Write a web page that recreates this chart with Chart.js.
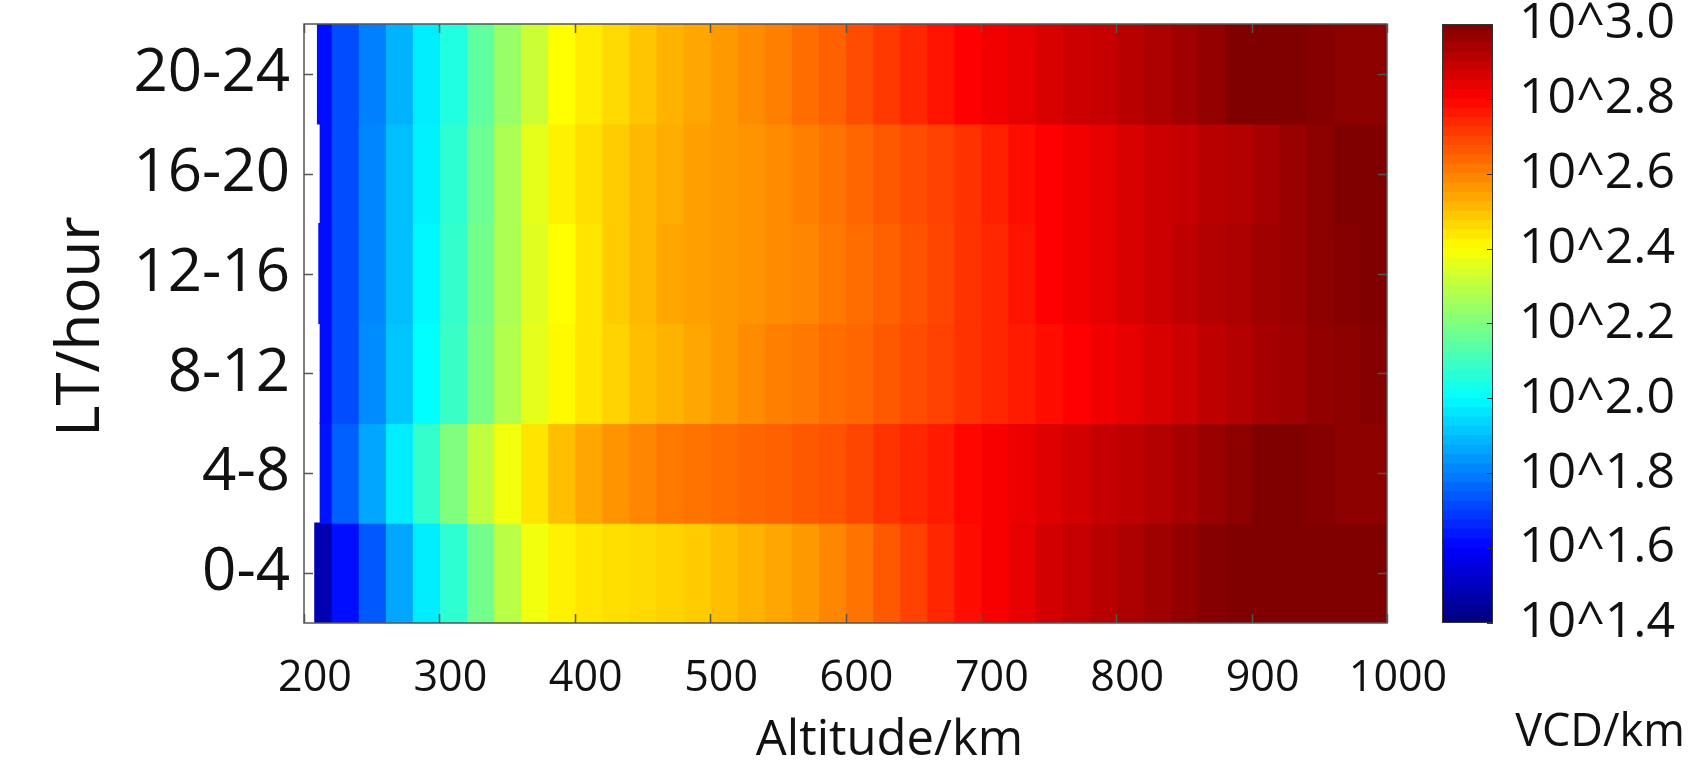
<!DOCTYPE html>
<html>
<head>
<meta charset="utf-8">
<script src="https://cdn.jsdelivr.net/npm/chart.js@4.4.0/dist/chart.umd.min.js"></script>
<style>
  html, body { margin:0; padding:0; background:#fff; }
  #wrap { position:relative; width:1690px; height:764px; overflow:hidden; }
  #heat { position:absolute; left:0; top:0; }
  #cbar { position:absolute; left:1400px; top:0; }
</style>
</head>
<body>
<div id="wrap">
  <canvas id="heat" width="1690" height="764"></canvas>
  <canvas id="cbar" width="290" height="764"></canvas>
</div>
<script>
// Data (log10 of VCD/km)
const LT_BANDS = ['0-4', '4-8', '8-12', '12-16', '16-20', '20-24'];
const ALT_CENTERS = [210,230,250,270,290,310,330,350,370,390,
                     410,430,450,470,490,510,530,550,570,590,
                     610,630,650,670,690,710,730,750,770,790,
                     810,830,850,870,890,910,930,950,970,990];
const BIN_WIDTH = 20;
const ROW_START = [208, 212, 212, 211, 212, 210]; // km where each LT band begins

const LOGVCD_0_4   = [1.48,1.62,1.74,1.86,1.97,2.07,2.18,2.29,2.38,2.42,
                      2.44,2.45,2.46,2.47,2.48,2.50,2.52,2.54,2.56,2.59,
                      2.62,2.66,2.70,2.74,2.78,2.81,2.84,2.87,2.89,2.91,
                      2.93,2.95,2.97,2.99,3.00,3.00,3.00,3.00,3.00,3.00];
const LOGVCD_4_8   = [1.63,1.75,1.86,1.97,2.08,2.20,2.30,2.38,2.44,2.50,
                      2.54,2.57,2.59,2.61,2.62,2.63,2.64,2.65,2.66,2.67,
                      2.69,2.72,2.74,2.76,2.79,2.81,2.83,2.85,2.87,2.89,
                      2.90,2.92,2.94,2.96,2.98,3.00,3.00,2.99,2.98,2.98];
const LOGVCD_8_12  = [1.62,1.72,1.82,1.91,2.00,2.09,2.19,2.28,2.36,2.41,
                      2.44,2.47,2.50,2.52,2.54,2.56,2.58,2.60,2.61,2.63,
                      2.64,2.66,2.68,2.70,2.72,2.74,2.76,2.78,2.80,2.82,
                      2.84,2.86,2.88,2.90,2.92,2.94,2.95,2.97,2.98,2.99];
const LOGVCD_12_16 = [1.62,1.72,1.81,1.90,1.99,2.08,2.18,2.27,2.35,2.40,
                      2.44,2.48,2.51,2.54,2.55,2.56,2.57,2.58,2.59,2.61,
                      2.63,2.65,2.67,2.69,2.72,2.74,2.77,2.80,2.82,2.84,
                      2.86,2.88,2.90,2.92,2.93,2.95,2.96,2.98,2.99,3.00];
const LOGVCD_16_20 = [1.62,1.72,1.81,1.90,1.98,2.07,2.17,2.27,2.36,2.42,
                      2.45,2.48,2.51,2.53,2.55,2.56,2.57,2.58,2.60,2.62,
                      2.64,2.66,2.68,2.70,2.72,2.75,2.78,2.80,2.82,2.84,
                      2.86,2.88,2.89,2.91,2.92,2.94,2.96,2.98,3.00,3.00];
const LOGVCD_20_24 = [1.62,1.72,1.80,1.88,1.97,2.05,2.15,2.24,2.32,2.40,
                      2.43,2.46,2.49,2.52,2.54,2.56,2.58,2.60,2.63,2.65,
                      2.68,2.71,2.74,2.77,2.80,2.82,2.84,2.86,2.88,2.89,
                      2.91,2.93,2.95,2.97,3.00,3.00,3.00,2.99,2.98,2.98];
const ROWS = [LOGVCD_0_4, LOGVCD_4_8, LOGVCD_8_12, LOGVCD_12_16, LOGVCD_16_20, LOGVCD_20_24];

const X_TICKS = [200, 300, 400, 500, 600, 700, 800, 900, 1000];
const CBAR_TICKS = [1.4, 1.6, 1.8, 2.0, 2.2, 2.4, 2.6, 2.8, 3.0];
const VMIN = 1.4, VMAX = 3.0;

// Helpers
const clamp01 = v => Math.max(0, Math.min(1, v));
function jet(v){
  const t = clamp01((v - VMIN) / (VMAX - VMIN));
  const r = clamp01(1.5 - Math.abs(4*t - 3));
  const g = clamp01(1.5 - Math.abs(4*t - 2));
  const b = clamp01(1.5 - Math.abs(4*t - 1));
  return `rgb(${Math.round(r*255)},${Math.round(g*255)},${Math.round(b*255)})`;
}
// keep the plot box where we put it: no extra room for overhanging labels
const noScalePadding = s => { s.paddingTop = 0; s.paddingBottom = 0; s.paddingLeft = 0; s.paddingRight = 0; };

Chart.defaults.font.family = '"Open Sans", "Noto Sans", sans-serif';
Chart.defaults.color = '#111';

const AXIS_COLOR = '#555';

// box + inward ticks, like the original figure
const frameTicks = {
  id: 'frameTicks',
  afterDatasetsDraw(chart){
    const { ctx, chartArea: a, scales: { x, y } } = chart;
    ctx.save();
    ctx.strokeStyle = AXIS_COLOR;
    ctx.lineWidth = 1.5;
    ctx.strokeRect(a.left, a.top, a.right - a.left, a.bottom - a.top);
    ctx.beginPath();
    X_TICKS.forEach(v => {
      const px = Math.round(x.getPixelForValue(v)) + 0.5;
      ctx.moveTo(px, a.bottom); ctx.lineTo(px, a.bottom - 9);
      ctx.moveTo(px, a.top);    ctx.lineTo(px, a.top + 9);
    });
    LT_BANDS.forEach((_, i) => {
      const py = Math.round(y.getPixelForValue(i)) + 0.5;
      ctx.moveTo(a.left, py);  ctx.lineTo(a.left + 9, py);
      ctx.moveTo(a.right, py); ctx.lineTo(a.right - 9, py);
    });
    ctx.stroke();
    ctx.restore();
  }
};

const axisTitles = {
  id: 'axisTitles',
  afterDraw(chart){
    const { ctx, chartArea: a } = chart;
    ctx.save();
    ctx.fillStyle = '#111';
    ctx.textAlign = 'center';
    ctx.textBaseline = 'middle';
    ctx.font = '49px "Open Sans"';
    ctx.fillText('Altitude/km', (a.left + a.right) / 2 + 44, a.bottom + 118);
    ctx.translate(82, (a.top + a.bottom) / 2 + 3);
    ctx.rotate(-Math.PI / 2);
    ctx.font = '60px "Open Sans"';
    ctx.fillText('LT/hour', 0, 0);
    ctx.restore();
  }
};

// Heat map: one floating-bar dataset per altitude bin
const heatDatasets = ALT_CENTERS.map((c, i) => ({
  label: c + ' km',
  data: ROWS.map((row, r) => [i === 0 ? ROW_START[r] : c - BIN_WIDTH / 2, c + BIN_WIDTH / 2]),
  backgroundColor: ROWS.map(row => jet(row[i])),
  borderWidth: 0,
  barPercentage: 1,
  categoryPercentage: 1,
  grouped: false,
  inflateAmount: 0.6
}));

new Chart(document.getElementById('heat'), {
  type: 'bar',
  data: { labels: LT_BANDS, datasets: heatDatasets },
  options: {
    indexAxis: 'y',
    responsive: false,
    animation: false,
    layout: { padding: { left: 0, top: 24, right: 303, bottom: 0 } },
    plugins: { legend: { display: false }, tooltip: { enabled: false } },
    scales: {
      x: {
        type: 'linear', min: 200, max: 1000,
        afterBuildTicks: s => { s.ticks = X_TICKS.map(v => ({ value: v })); },
        ticks: { font: { size: 43 }, padding: 22, labelOffset: 11, maxRotation: 0, autoSkip: false,
                 callback: v => String(v) },
        grid: { display: false }, border: { display: false },
        afterFit: s => { noScalePadding(s); s.height = 141; }
      },
      y: {
        type: 'category', reverse: true,
        ticks: { font: { size: 60 }, padding: 6 },
        grid: { display: false }, border: { display: false },
        afterFit: s => { noScalePadding(s); s.width = 304; }
      }
    }
  },
  plugins: [frameTicks, axisTitles]
});

// Colour bar
const CBAR_STEPS = 64;
const cbarDatasets = [];
for (let k = 0; k < CBAR_STEPS; k++) {
  const lo = VMIN + (VMAX - VMIN) * k / CBAR_STEPS;
  const hi = VMIN + (VMAX - VMIN) * (k + 1) / CBAR_STEPS;
  cbarDatasets.push({
    data: [[lo, hi]],
    backgroundColor: jet((lo + hi) / 2),
    borderWidth: 0, barPercentage: 1, categoryPercentage: 1,
    grouped: false, inflateAmount: 0.6
  });
}

const cbarFrame = {
  id: 'cbarFrame',
  afterDatasetsDraw(chart){
    const { ctx, chartArea: a, scales: { y } } = chart;
    ctx.save();
    ctx.strokeStyle = '#333';
    ctx.lineWidth = 1;
    ctx.strokeRect(a.left + 0.5, a.top + 0.5, a.right - a.left - 1, a.bottom - a.top - 1);
    ctx.beginPath();
    CBAR_TICKS.forEach(v => {
      const py = Math.round(y.getPixelForValue(v)) + 0.5;
      ctx.moveTo(a.right, py); ctx.lineTo(a.right - 6, py);
    });
    ctx.stroke();
    ctx.fillStyle = '#111';
    ctx.font = '45px "Open Sans"';
    ctx.textAlign = 'center';
    ctx.textBaseline = 'middle';
    ctx.fillText('VCD/km', 200, a.bottom + 110);
    ctx.restore();
  }
};

new Chart(document.getElementById('cbar'), {
  type: 'bar',
  data: { labels: ['VCD'], datasets: cbarDatasets },
  options: {
    responsive: false,
    animation: false,
    layout: { padding: { left: 42, top: 24, right: 0, bottom: 141 } },
    plugins: { legend: { display: false }, tooltip: { enabled: false } },
    scales: {
      x: { display: false },
      y: {
        position: 'right', min: VMIN, max: VMAX,
        afterBuildTicks: s => { s.ticks = CBAR_TICKS.map(v => ({ value: v })); },
        ticks: { font: { size: 50 }, padding: 18, callback: v => '10^' + Number(v).toFixed(1) },
        grid: { display: false }, border: { display: false },
        afterFit: s => { noScalePadding(s); s.width = 197; }
      }
    }
  },
  plugins: [cbarFrame]
});
</script>
</body>
</html>
